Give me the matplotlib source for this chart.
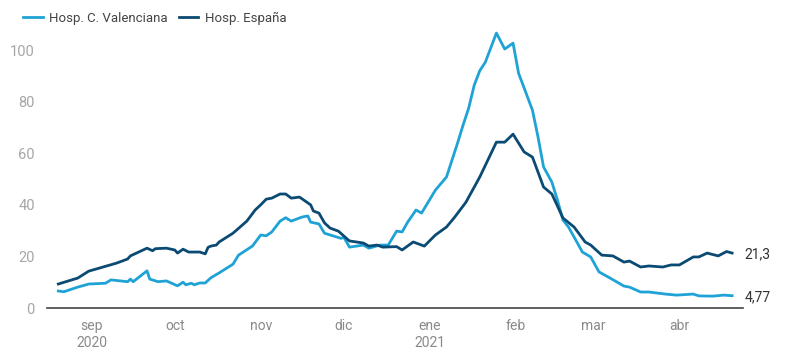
import numpy as np
import pandas as pd
import matplotlib.pyplot as plt
import matplotlib.dates as mdates

plt.rcParams['font.family'] = ['Roboto', 'DejaVu Sans']

# Hospitalizaciones (por 100.000 hab.)
fechas_esp = ["2020-08-20", "2020-08-27", "2020-08-31", "2020-09-10", "2020-09-14",
              "2020-09-15", "2020-09-21", "2020-09-23", "2020-09-24", "2020-09-28",
              "2020-10-01", "2020-10-02", "2020-10-04", "2020-10-06", "2020-10-10",
              "2020-10-12", "2020-10-13", "2020-10-14", "2020-10-16", "2020-10-17",
              "2020-10-22", "2020-10-27", "2020-10-30", "2020-11-01", "2020-11-03",
              "2020-11-05", "2020-11-08", "2020-11-10", "2020-11-12", "2020-11-15",
              "2020-11-19", "2020-11-20", "2020-11-22", "2020-11-24", "2020-11-26",
              "2020-11-29", "2020-12-03", "2020-12-08", "2020-12-10", "2020-12-13",
              "2020-12-15", "2020-12-20", "2020-12-22", "2020-12-26", "2020-12-30",
              "2021-01-03", "2021-01-07", "2021-01-10", "2021-01-14", "2021-01-19",
              "2021-01-25", "2021-01-28", "2021-01-31", "2021-02-04", "2021-02-07",
              "2021-02-11", "2021-02-14", "2021-02-18", "2021-02-22", "2021-02-26",
              "2021-02-28", "2021-03-04", "2021-03-08", "2021-03-12", "2021-03-14",
              "2021-03-18", "2021-03-21", "2021-03-26", "2021-03-29", "2021-04-01",
              "2021-04-06", "2021-04-08", "2021-04-11", "2021-04-15", "2021-04-18",
              "2021-04-20"]
espana = [9.3, 11.6, 14.3, 17.4, 19.0,
          20.2, 23.2, 22.2, 23.0, 23.2,
          22.5, 21.3, 22.8, 21.7, 21.7,
          21.0, 23.5, 24.0, 24.4, 25.6,
          29.0, 33.7, 38.0, 40.0, 42.2,
          42.6, 44.2, 44.2, 42.6, 43.0,
          40.0, 37.6, 36.8, 33.0, 31.0,
          29.8, 26.0, 25.2, 24.0, 24.4,
          23.6, 23.8, 22.5, 25.6, 24.0,
          28.3, 31.4, 35.3, 41.0, 50.8,
          64.3, 64.3, 67.4, 60.5, 58.5,
          46.9, 44.2, 34.9, 31.4, 25.6,
          24.4, 20.5, 20.2, 17.8, 18.2,
          15.9, 16.3, 15.9, 16.7, 16.7,
          19.8, 19.8, 21.3, 20.2, 21.9,
          21.3]

fechas_cv = ["2020-08-20", "2020-08-22", "2020-08-27", "2020-08-31", "2020-09-06",
             "2020-09-08", "2020-09-14", "2020-09-15", "2020-09-16", "2020-09-21",
             "2020-09-22", "2020-09-25", "2020-09-28", "2020-10-02", "2020-10-04",
             "2020-10-05", "2020-10-07", "2020-10-08", "2020-10-10", "2020-10-12",
             "2020-10-14", "2020-10-17", "2020-10-22", "2020-10-24", "2020-10-29",
             "2020-11-01", "2020-11-03", "2020-11-05", "2020-11-08", "2020-11-10",
             "2020-11-12", "2020-11-16", "2020-11-18", "2020-11-19", "2020-11-22",
             "2020-11-24", "2020-11-30", "2020-12-01", "2020-12-03", "2020-12-08",
             "2020-12-10", "2020-12-14", "2020-12-17", "2020-12-20", "2020-12-22",
             "2020-12-24", "2020-12-27", "2020-12-29", "2021-01-03", "2021-01-07",
             "2021-01-11", "2021-01-13", "2021-01-15", "2021-01-17", "2021-01-19",
             "2021-01-21", "2021-01-25", "2021-01-28", "2021-01-31", "2021-02-02",
             "2021-02-04", "2021-02-07", "2021-02-09", "2021-02-11", "2021-02-14",
             "2021-02-16", "2021-02-18", "2021-02-20", "2021-02-23", "2021-02-25",
             "2021-02-28", "2021-03-03", "2021-03-07", "2021-03-12", "2021-03-14",
             "2021-03-18", "2021-03-21", "2021-03-27", "2021-03-31", "2021-04-06",
             "2021-04-08", "2021-04-13", "2021-04-17", "2021-04-20"]
valenciana = [6.6, 6.3, 8.1, 9.3, 9.6,
              10.9, 10.2, 11.2, 10.2, 14.4,
              11.2, 10.2, 10.5, 8.6, 10.0,
              9.0, 9.6, 9.0, 9.7, 9.7,
              11.7, 13.6, 17.0, 20.5, 24.0,
              28.3, 28.0, 29.5, 33.7, 35.0,
              33.7, 35.3, 35.7, 33.3, 32.6,
              29.0, 27.0, 27.4, 23.6, 24.4,
              23.2, 24.4, 24.4, 29.8, 29.5,
              33.3, 38.0, 36.8, 45.7, 50.8,
              64.0, 71.0, 77.5, 86.4, 92.0,
              95.3, 106.6, 100.4, 102.7, 91.0,
              85.3, 76.7, 66.3, 54.7, 48.8,
              41.9, 34.1, 31.4, 25.6, 21.7,
              19.8, 14.0, 11.6, 8.5, 8.1,
              6.2, 6.2, 5.4, 5.0, 5.4,
              4.7, 4.6, 5.0, 4.77]

y_ticks = [0, 20, 40, 60, 80, 100]
meses = ["sep\n2020", "oct", "nov", "dic", "ene\n2021", "feb", "mar", "abr"]

c_val = "#1fa3d6"
c_esp = "#0b4a73"

fig = plt.figure(figsize=(8, 3.56), dpi=100)
ax = fig.add_axes([0.059, 0.1348, 0.87, 0.797])

ax.plot(pd.to_datetime(fechas_cv), valenciana, color=c_val, lw=2, label="Hosp. C. Valenciana")
ax.plot(pd.to_datetime(fechas_esp), espana, color=c_esp, lw=2, label="Hosp. España")

ax.set_xlim(pd.Timestamp("2020-08-16"), pd.Timestamp("2021-04-24"))
ax.set_ylim(0, 110)

ax.set_yticks(y_ticks)
ax.set_yticklabels([str(v) for v in y_ticks])
ticks = pd.date_range("2020-09-01", "2021-04-01", freq="MS")
ax.set_xticks(ticks)
ax.set_xticklabels(meses)

ax.tick_params(axis="y", length=0, pad=9, labelsize=10.5, labelcolor="#a6a6a6")
ax.tick_params(axis="x", length=0, pad=8, labelsize=10, labelcolor="#8a8a8a")
for lab in ax.get_xticklabels():
    lab.set_linespacing(1.3)
    lab.set_verticalalignment("top")

for s in ["top", "right", "left"]:
    ax.spines[s].set_visible(False)
ax.spines["bottom"].set_color("#444444")
ax.spines["bottom"].set_linewidth(1.2)

# etiquetas del último valor
ax.annotate("21,3", xy=(pd.Timestamp(fechas_esp[-1]), espana[-1]), xytext=(9, -1),
            textcoords="offset points", va="center", ha="left", fontsize=10,
            color="#333333", annotation_clip=False)
ax.annotate("4,77", xy=(pd.Timestamp(fechas_cv[-1]), valenciana[-1]), xytext=(9, -1),
            textcoords="offset points", va="center", ha="left", fontsize=10,
            color="#333333", annotation_clip=False)

fig.legend(loc="upper left", bbox_to_anchor=(0.014, 1.0), ncol=2, frameon=False,
           fontsize=9.5, handlelength=1.5, handletextpad=0.5, columnspacing=0.8,
           labelcolor="#444444")

fig.savefig("out.png", dpi=100)
